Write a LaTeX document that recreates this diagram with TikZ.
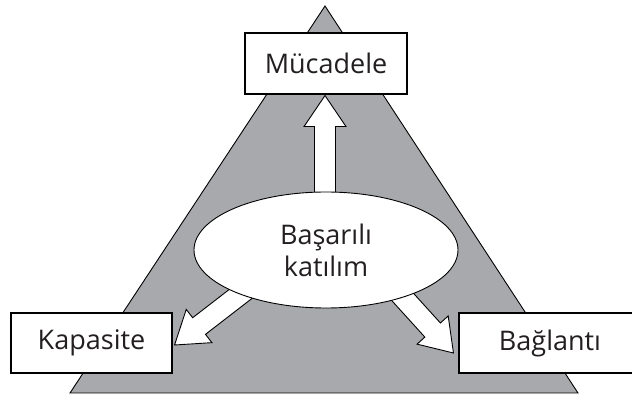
\documentclass[tikz,border=0pt]{standalone}
\usepackage{fontspec}
\setmainfont{Open Sans}
\usetikzlibrary{calc,shapes.geometric}
\definecolor{triColor}{RGB}{168,169,173}
\definecolor{textColor}{RGB}{35,31,32}
\newcommand{\diagfont}{\fontsize{27}{32}\selectfont}
% fat hollow arrow: #1 tip point, #2 direction, #3 overall length
\newcommand{\fatarrow}[3]{%
  \begin{scope}[shift={(#1)}, rotate=#2]
    \draw[bigarrow] (0,0) -- (-31,21) -- (-31,10.5) -- (-#3,10.5)
      -- (-#3,-10.5) -- (-31,-10.5) -- (-31,-21) -- cycle;
  \end{scope}}

\begin{document}
\begin{tikzpicture}[
        x=1pt, y=1pt,
        box/.style={draw, line width=1.1pt, fill=white, align=center, font=\diagfont, text=textColor, inner sep=0pt},
        blob/.style={draw, line width=0.9pt, fill=white, ellipse, align=center, font=\diagfont, text=textColor, minimum width=264pt, minimum height=116pt, inner sep=0pt},
        bigarrow/.style={line width=0.9pt, fill=white, line join=miter}
      ]
      \useasboundingbox (0,0) rectangle (632,396);
      % triangle behind everything
      \draw[line width=0.9pt, fill=triColor] (70,3) -- (578,3) -- (325,390) -- cycle;

      \node[box, minimum width=162pt, minimum height=61pt] (fight) at (326,332.5) {Mücadele};
      \node[box, minimum width=161pt, minimum height=60pt] (capacity) at (91.5,53) {Kapasite};
      \node[box, minimum width=182pt, minimum height=60pt] (link) at (550,53) {Bağlantı};

      % arrows first, the ellipse hides their tails
      \fatarrow{$(fight.south)+(-1,-1)$}{90}{125}
      \fatarrow{$(capacity.east)+(2,-2)$}{217.7}{110}
      \fatarrow{$(link.west)+(-5,-10)$}{-47.8}{105}

      \node[blob] (success) at (326,146) {Başarılı\\katılım};
    \end{tikzpicture}
\end{document}
